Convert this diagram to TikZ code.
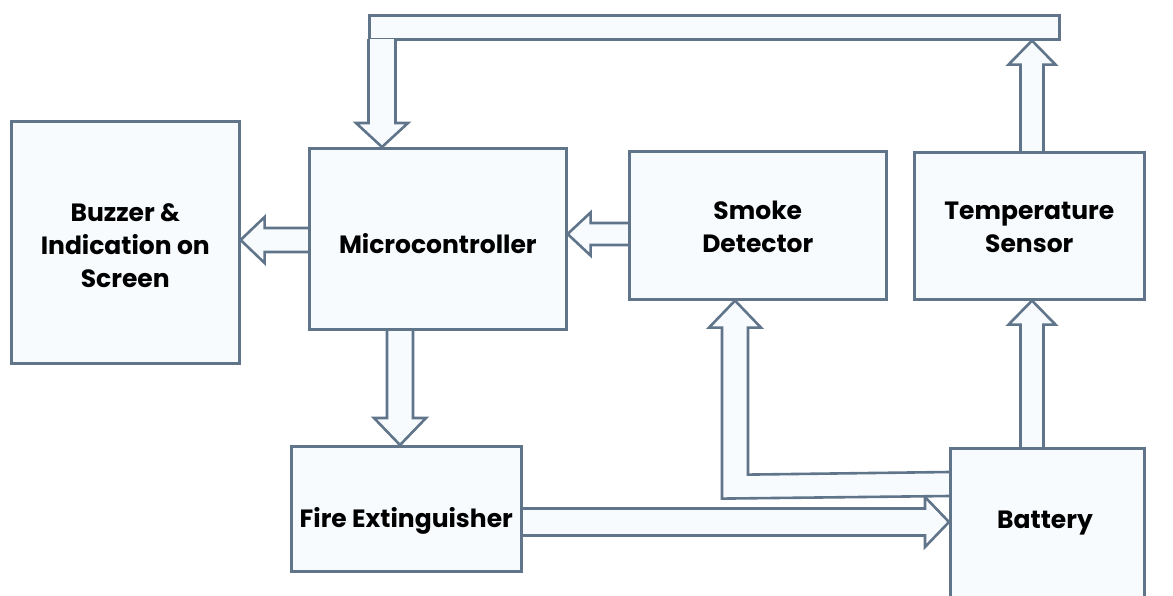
\documentclass[tikz,border=0pt]{standalone}
\usepackage{fontspec}
\setmainfont{Poppins}
\usetikzlibrary{calc,backgrounds}
\definecolor{edge}{RGB}{96,116,138}
\definecolor{pale}{RGB}{247,251,254}
% #1 tail, #2 tip, #3 shaft half width, #4 head half width, #5 head length
\newcommand\blockarrow[5]{%
  \coordinate (ba-t) at (#1);
  \coordinate (ba-p) at (#2);
  \coordinate (ba-h) at ($(ba-p)!#5!(ba-t)$);
  \filldraw[arr] ($(ba-t)!#3!90:(ba-p)$) -- ($(ba-h)!#3!-90:(ba-t)$) -- ($(ba-h)!#4!-90:(ba-t)$) -- (ba-p) -- ($(ba-h)!#4!90:(ba-t)$) -- ($(ba-h)!#3!90:(ba-t)$) -- ($(ba-t)!#3!-90:(ba-p)$);
}
\begin{document}
\begin{tikzpicture}[x=1pt,y=-1pt,
  box/.style={draw=edge,fill=pale,line width=2.6pt,rectangle,inner sep=0pt,anchor=north west},
  arr/.style={draw=edge,fill=pale,line width=2.6pt,line join=miter},
  lbl/.style={font=\fontsize{25}{33}\selectfont\bfseries,align=center,text=black,inner sep=0pt}]
\useasboundingbox (0,0) rectangle (1173,595);
% boxes
\node[box,minimum width=228pt,minimum height=242pt] (buz) at (10,120) {};
\node[box,minimum width=257pt,minimum height=181pt] (mc) at (308,147) {};
\node[box,minimum width=257pt,minimum height=148pt] (sd) at (628,150) {};
\node[box,minimum width=230pt,minimum height=147pt] (ts) at (913,151) {};
\node[box,minimum width=230pt,minimum height=125pt] (fe) at (290,445) {};
\node[box,minimum width=194pt,minimum height=150pt] (bat) at (949,447) {};
\node[box,minimum width=690pt,minimum height=24pt] (bus) at (368,14) {};
% labels
\node[lbl] (buzt) at ($(buz.center)+(0,3)$) {Buzzer \&\\Indication on\\Screen};
\node[lbl] (mct) at ($(mc.center)+(0,5)$) {Microcontroller};
\node[lbl] (sdt) at ($(sd.center)+(0,2)$) {Smoke\\Detector};
\node[lbl] (tst) at ($(ts.center)+(0,2)$) {Temperature\\Sensor};
\node[lbl] (fet) at ($(fe.center)+(0,12)$) {Fire Extinguisher};
\node[lbl] (batt) at ($(bat.north west)+(96,76)$) {Battery};
% connectors
\begin{scope}[on background layer]
  \blockarrow{$(mc.north west)+(0,93)$}{$(buz.north east)+(0,120)$}{12pt}{23pt}{24pt}
  \blockarrow{$(sd.north west)+(0,84)$}{$(mc.north east)+(0,87)$}{11pt}{21.5pt}{23pt}
  \blockarrow{$(mc.south west)+(92,0)$}{$(fe.north west)+(110,0)$}{13pt}{26pt}{27pt}
  \blockarrow{$(fe.north east)+(0,77)$}{$(bat.north west)+(0,75)$}{13.5pt}{25pt}{24pt}
  \blockarrow{$(bat.north west)+(83,0)$}{$(ts.south west)+(119,0)$}{11.5pt}{23.5pt}{24pt}
  \blockarrow{$(ts.north west)+(119,0)$}{$(bus.south west)+(664,0)$}{11.5pt}{23.5pt}{24pt}
  \coordinate (lt) at ($(sd.south west)+(107,0)$);
  \filldraw[arr] ($(bat.north west)+(0,25)$) -- ($(lt)+(13,174)$) -- ($(lt)+(13,27)$) -- ($(lt)+(26,27)$) -- (lt) -- ($(lt)+(-26,27)$) -- ($(lt)+(-13,27)$) -- ($(lt)+(-13,198)$) -- ($(bat.north west)+(0,49)$);
\end{scope}
\blockarrow{$(bus.south west)+(14,-1.5)$}{$(mc.north west)+(74,0)$}{13.5pt}{26pt}{24pt}
\end{tikzpicture}
\end{document}
